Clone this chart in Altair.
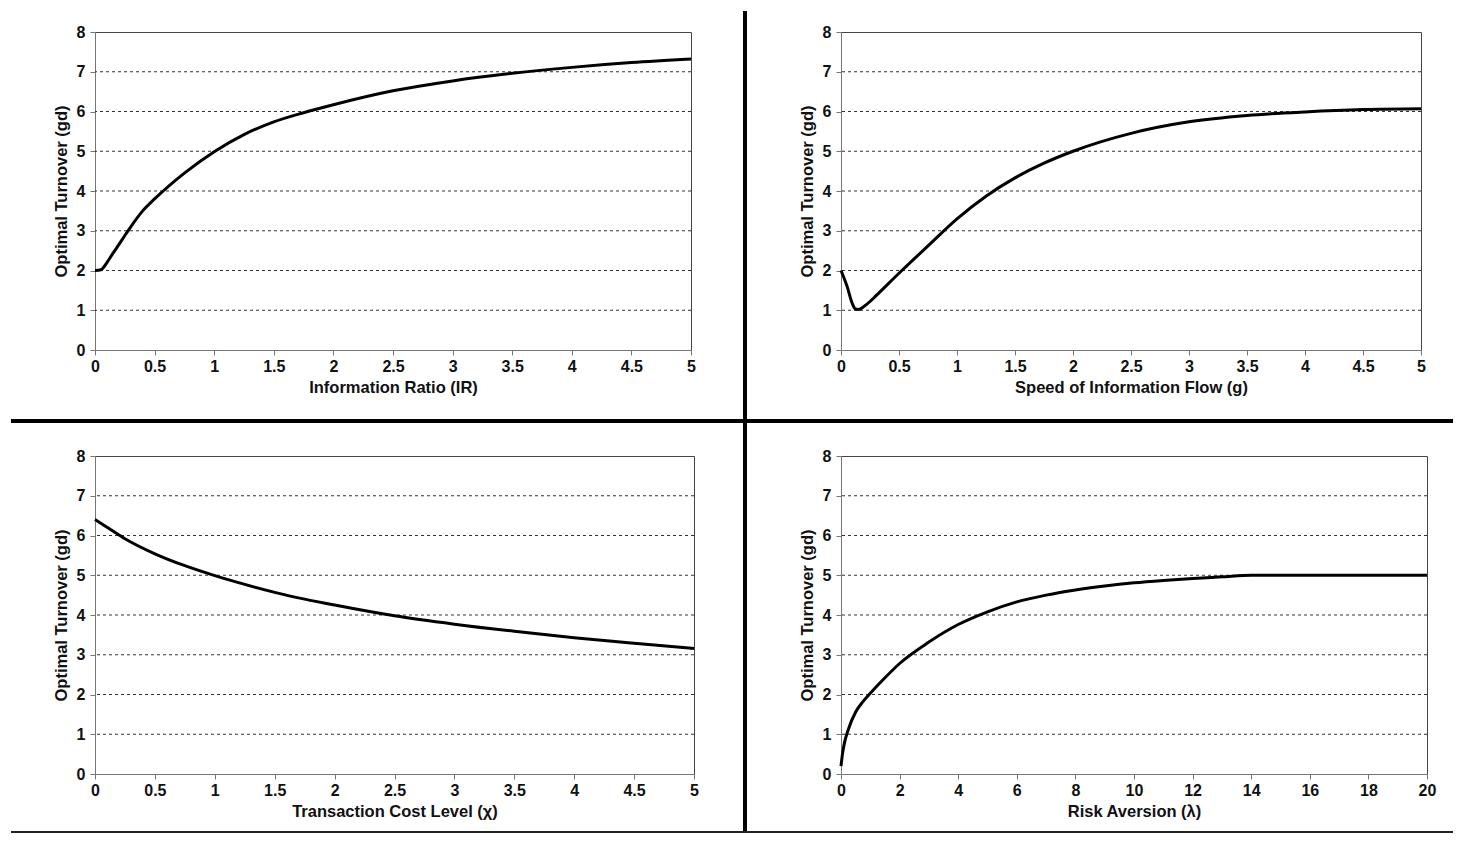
import altair as alt
import pandas as pd

# ---------------- data ----------------
ir_x = [0, 0.05, 0.1, 0.15, 0.2, 0.25, 0.3, 0.4, 0.5, 0.75, 1.0, 1.25, 1.5, 1.75, 2.0, 2.5, 3.0, 3.5, 4.0, 4.5, 5.0]
ir_y = [2.0, 2.02, 2.2, 2.43, 2.65, 2.88, 3.1, 3.5, 3.8, 4.45, 4.99, 5.42, 5.74, 5.97, 6.17, 6.52, 6.77, 6.96, 7.11, 7.23, 7.32]

g_x = [0, 0.05, 0.1, 0.125, 0.15, 0.2, 0.25, 0.3, 0.5, 0.75, 1.0, 1.25, 1.5, 1.75, 2.0, 2.5, 3.0, 3.5, 4.0, 4.5, 5.0]
g_y = [2.0, 1.62, 1.15, 1.03, 1.02, 1.1, 1.22, 1.36, 1.93, 2.62, 3.3, 3.87, 4.33, 4.7, 5.0, 5.45, 5.74, 5.9, 5.99, 6.05, 6.07]

chi_x = [0, 0.1, 0.25, 0.5, 0.75, 1.0, 1.25, 1.5, 1.75, 2.0, 2.5, 3.0, 3.5, 4.0, 4.5, 5.0]
chi_y = [6.4, 6.21, 5.92, 5.54, 5.24, 4.99, 4.77, 4.57, 4.4, 4.25, 3.98, 3.77, 3.59, 3.43, 3.29, 3.16]

lam_x = [0, 0.05, 0.1, 0.25, 0.5, 0.75, 1.0, 1.5, 2.0, 3.0, 4.0, 5.0, 6.0, 7.0, 8.0, 9.0, 10.0, 11.0, 12.0, 13.0, 14.0, 16.0, 18.0, 20.0]
lam_y = [0.2, 0.5, 0.72, 1.12, 1.56, 1.82, 2.03, 2.42, 2.78, 3.32, 3.76, 4.08, 4.33, 4.5, 4.63, 4.73, 4.81, 4.87, 4.92, 4.96, 5.0, 5.0, 5.0, 5.0]

x_ticks_5 = [0, 0.5, 1, 1.5, 2, 2.5, 3, 3.5, 4, 4.5, 5]
x_ticks_20 = [0, 2, 4, 6, 8, 10, 12, 14, 16, 18, 20]
y_ticks = [0, 1, 2, 3, 4, 5, 6, 7, 8]
grid_levels = [1, 2, 3, 4, 5, 6, 7]

y_title = "Optimal Turnover (gd)"
FONT = "Liberation Sans"
LABEL_SIZE = 16
TITLE_SIZE = 16.5


def common_axis(**kw):
    return alt.Axis(grid=False, tickSize=5, labelFlush=False, labelOverlap=False,
                    labelFont=FONT, titleFont=FONT, labelFontSize=LABEL_SIZE,
                    titleFontSize=TITLE_SIZE, labelFontWeight="bold", titleFontWeight="bold",
                    labelColor="#111", titleColor="#111", domainColor="#777", tickColor="#777",
                    **kw)


def y_axis():
    return common_axis(values=y_ticks, title=y_title, labelPadding=5, titlePadding=7)


def panel(xs, ys, xtitle, xmax, xticks, width, height, extra=None):
    df = pd.DataFrame({"x": xs, "y": ys})
    yscale = alt.Scale(domain=[0, 8], nice=False)
    x_enc = alt.X("x:Q", scale=alt.Scale(domain=[0, xmax], nice=False),
                  axis=common_axis(values=xticks, title=xtitle, format="~g",
                                   labelPadding=3, titlePadding=5))
    grid = alt.Chart(pd.DataFrame({"g": grid_levels})).mark_rule(
        color="#333", strokeWidth=1, strokeDash=[3, 3]
    ).encode(y=alt.Y("g:Q", scale=yscale, axis=y_axis()))
    line = alt.Chart(df).mark_line(color="black", strokeWidth=3, interpolate="monotone").encode(
        x=x_enc, y=alt.Y("y:Q", scale=yscale, axis=y_axis()))
    layers = [grid, line]
    if extra:
        layers += extra
    return alt.layer(*layers).properties(width=width, height=height)


one = pd.DataFrame({"a": [0]})
sep_h = alt.Chart(one).mark_rule(color="black", strokeWidth=4).encode(
    x=alt.value(-84), x2=alt.value(1358), y=alt.value(389))
sep_v = alt.Chart(one).mark_rule(color="black", strokeWidth=4).encode(
    x=alt.value(650), y=alt.value(-21), y2=alt.value(800))
sep_b = alt.Chart(one).mark_rule(color="#222", strokeWidth=2).encode(
    x=alt.value(-84), x2=alt.value(1358), y=alt.value(800))

tl = panel(ir_x, ir_y, "Information Ratio (IR)", 5, x_ticks_5, 596, 318, [sep_h, sep_v, sep_b])
tr = panel(g_x, g_y, "Speed of Information Flow (g)", 5, x_ticks_5, 580, 318)
bl = panel(chi_x, chi_y, "Transaction Cost Level (\u03c7)", 5, x_ticks_5, 599, 318)
br = panel(lam_x, lam_y, "Risk Aversion (\u03bb)", 20, x_ticks_20, 586, 318)

chart = alt.concat(tl, tr, bl, br, columns=2, spacing={"row": 106, "column": 147},
                   bounds="flush").properties(padding=0).configure_view(
    stroke="#444", strokeWidth=1
)

chart.save("out.html", embed_options={"renderer": "svg", "actions": False})
